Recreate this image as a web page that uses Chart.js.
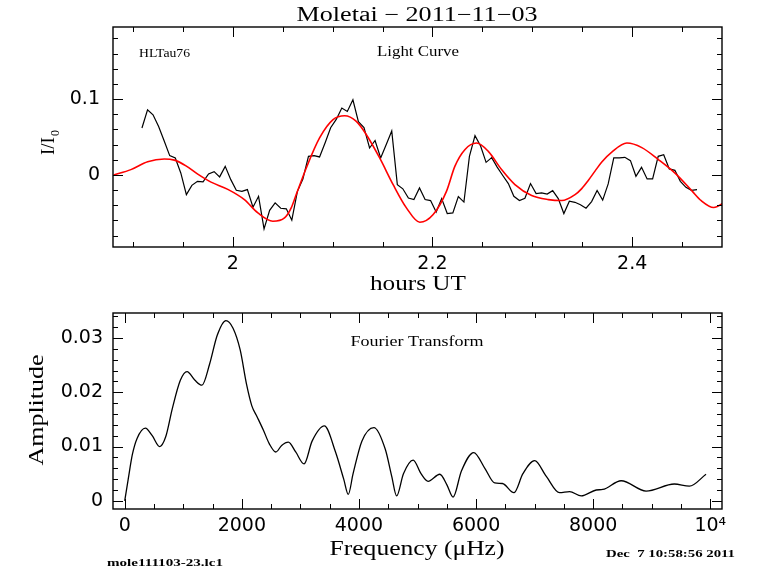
<!DOCTYPE html>
<html>
<head>
<meta charset="utf-8">
<script src="https://cdn.jsdelivr.net/npm/chart.js@4.4.0/dist/chart.umd.min.js"></script>
<style>
  body { margin: 0; background: #fff; }
  #wrap { position: relative; width: 768px; height: 574px; }
  canvas { position: absolute; left: 0; top: 0; }
</style>
</head>
<body>
<div id="wrap">
  <canvas id="lc" width="768" height="574"></canvas>
  <canvas id="ft" width="768" height="574"></canvas>
</div>
<script>
// light curve, hours UT vs I/I0
var lcTime = [
  1.9090, 1.9146, 1.9201, 1.9257, 1.9312, 1.9368, 1.9424, 1.9479, 1.9535, 1.9590,
  1.9646, 1.9702, 1.9757, 1.9813, 1.9868, 1.9924, 1.9980, 2.0035, 2.0091, 2.0146,
  2.0202, 2.0258, 2.0313, 2.0369, 2.0424, 2.0480, 2.0536, 2.0591, 2.0647, 2.0702,
  2.0758, 2.0814, 2.0869, 2.0925, 2.0980, 2.1036, 2.1092, 2.1147, 2.1203, 2.1258,
  2.1314, 2.1370, 2.1425, 2.1481, 2.1536, 2.1592, 2.1648, 2.1703, 2.1759, 2.1814,
  2.1870, 2.1926, 2.1981, 2.2037, 2.2092, 2.2148, 2.2204, 2.2259, 2.2315, 2.2370,
  2.2426, 2.2482, 2.2537, 2.2593, 2.2648, 2.2704, 2.2760, 2.2815, 2.2871, 2.2926,
  2.2982, 2.3038, 2.3093, 2.3149, 2.3204, 2.3260, 2.3316, 2.3371, 2.3427, 2.3482,
  2.3538, 2.3594, 2.3649, 2.3705, 2.3760, 2.3816, 2.3872, 2.3927, 2.3983, 2.4038,
  2.4094, 2.4150, 2.4205, 2.4261, 2.4316, 2.4372, 2.4428, 2.4483, 2.4539, 2.4594,
  2.4650
];
var lcFlux = [
  0.0618, 0.0859, 0.0793, 0.0639, 0.0451, 0.0254, 0.0224, 0.0026, -0.0259, -0.0137,
  -0.0084, -0.0092, 0.0013, 0.0043, -0.0026, 0.0113, -0.0062, -0.0203, -0.0216, -0.0193,
  -0.0426, -0.0282, -0.0711, -0.0466, -0.0368, -0.0439, -0.0447, -0.0597, -0.0216, -0.0053,
  0.0245, 0.0254, 0.0237, 0.0425, 0.0622, 0.0732, 0.0882, 0.0837, 0.0991, 0.0701,
  0.0625, 0.0355, 0.0454, 0.0224, 0.0399, 0.0579, -0.0128, -0.0183, -0.0305, -0.0325,
  -0.0171, -0.0325, -0.0338, -0.0489, -0.0312, -0.0509, -0.0500, -0.0286, -0.0358, 0.0245,
  0.0517, 0.0382, 0.0166, 0.0228, 0.0103, -0.0007, -0.0114, -0.0282, -0.0338, -0.0308,
  -0.0114, -0.0246, -0.0237, -0.0253, -0.0207, -0.0312, -0.0509, -0.0347, -0.0361, -0.0393,
  -0.0439, -0.0351, -0.0204, -0.0332, -0.0118, 0.0224, 0.0224, 0.0232, 0.0188, -0.0018,
  0.0100, -0.0053, -0.0053, 0.0245, 0.0267, 0.0079, 0.0061, -0.0084, -0.0163, -0.0203,
  -0.0193
];

// red fitted curve
var fitTime = [
  1.8806, 1.8979, 1.9147, 1.9314, 1.9414, 1.9531, 1.9649, 1.9782, 1.9950, 2.0116,
  2.0251, 2.0401, 2.0518, 2.0585, 2.0635, 2.0736, 2.0869, 2.1004, 2.1120, 2.1237,
  2.1338, 2.1471, 2.1606, 2.1739, 2.1873, 2.2007, 2.2140, 2.2224, 2.2324, 2.2442,
  2.2559, 2.2692, 2.2826, 2.2993, 2.3161, 2.3295, 2.3428, 2.3495, 2.3562, 2.3628,
  2.3696, 2.3796, 2.3947, 2.4097, 2.4265, 2.4432, 2.4599, 2.4692, 2.4817, 2.4927
];
var fitFlux = [
  0.0000, 0.0070, 0.0175, 0.0210, 0.0195, 0.0120, 0.0010, -0.0095, -0.0190, -0.0325,
  -0.0500, -0.0610, -0.0566, -0.0434, -0.0260, 0.0092, 0.0487, 0.0728, 0.0780, 0.0705,
  0.0530, 0.0224, -0.0128, -0.0434, -0.0624, -0.0522, -0.0216, 0.0113, 0.0333, 0.0420,
  0.0310, 0.0070, -0.0128, -0.0272, -0.0325, -0.0338, -0.0260, -0.0180, -0.0070, 0.0050,
  0.0170, 0.0300, 0.0420, 0.0360, 0.0200, 0.0020, -0.0210, -0.0340, -0.0430, -0.0360
];

// Fourier transform amplitude spectrum
var ftFreq = [
  0, 60, 130, 211, 353, 470, 597, 700, 813, 950,
  1064, 1200, 1319, 1450, 1580, 1728, 1850, 1972, 2080, 2171,
  2260, 2369, 2470, 2581, 2680, 2795, 2920, 3063, 3200, 3409,
  3600, 3740, 3818, 3900, 4050, 4256, 4450, 4560, 4643, 4760,
  4926, 5060, 5181, 5381, 5500, 5608, 5750, 5960, 6150, 6318,
  6450, 6647, 6800, 7000, 7200, 7426, 7597, 7796, 8052, 8164,
  8478, 8904, 9386, 9642, 9927
];
var ftAmp = [
  0.0000, 0.0040, 0.0085, 0.0115, 0.0134, 0.0120, 0.0100, 0.0118, 0.0170, 0.0222,
  0.0238, 0.0222, 0.0213, 0.0252, 0.0305, 0.0332, 0.0318, 0.0278, 0.0215, 0.0175,
  0.0155, 0.0130, 0.0105, 0.0090, 0.0102, 0.0108, 0.0090, 0.0068, 0.0110, 0.0138,
  0.0090, 0.0040, 0.0012, 0.0050, 0.0110, 0.0135, 0.0095, 0.0045, 0.0009, 0.0050,
  0.0075, 0.0050, 0.0036, 0.0049, 0.0030, 0.0007, 0.0055, 0.0089, 0.0060, 0.0033,
  0.0032, 0.0015, 0.0050, 0.0074, 0.0045, 0.0015, 0.0017, 0.0009, 0.0020, 0.0021,
  0.0037, 0.0018, 0.0031, 0.0027, 0.0049
];

var lcXTicks = [2, 2.2, 2.4];
var lcXLabels = ["2", "2.2", "2.4"];
var lcYTicks = [0, 0.1];
var lcYLabels = ["0", "0.1"];
var ftXTicks = [0, 2000, 4000, 6000, 8000, 10000];
var ftXLabels = ["0", "2000", "4000", "6000", "8000", "10\u2074"];
var ftYTicks = [0, 0.01, 0.02, 0.03];
var ftYLabels = ["0", "0.01", "0.02", "0.03"];

function pts(xs, ys) {
  return xs.map(function (x, i) { return {x: x, y: ys[i]}; });
}

// minor tick positions between the scale limits
function eachStep(scale, step, fn) {
  var k = Math.ceil(scale.min / step - 1e-9);
  for (; k * step <= scale.max + 1e-12; k++) fn(k * step);
}

// pgplot style frame with inward ticks on all four sides
var boxTicks = {
  id: "boxTicks",
  afterDraw: function (chart, args, o) {
    var ctx = chart.ctx, a = chart.chartArea;
    var sx = chart.scales.x, sy = chart.scales.y;
    function xt(v, len) {
      var p = Math.round(sx.getPixelForValue(v)) + 0.5;
      ctx.moveTo(p, a.bottom); ctx.lineTo(p, a.bottom - len);
      ctx.moveTo(p, a.top); ctx.lineTo(p, a.top + len);
    }
    function yt(v, len) {
      var p = Math.round(sy.getPixelForValue(v)) + 0.5;
      ctx.moveTo(a.left, p); ctx.lineTo(a.left + len, p);
      ctx.moveTo(a.right, p); ctx.lineTo(a.right - len, p);
    }
    ctx.save();
    ctx.strokeStyle = "#000";
    ctx.lineWidth = 1;
    ctx.beginPath();
    eachStep(sx, o.xStep, function (v) { xt(v, 5); });
    eachStep(sy, o.yStep, function (v) { yt(v, 5); });
    sx.ticks.forEach(function (t) { xt(t.value, 10); });
    sy.ticks.forEach(function (t) { yt(t.value, 10); });
    ctx.stroke();
    ctx.lineWidth = 1.4;
    ctx.strokeRect(a.left, a.top, a.right - a.left, a.bottom - a.top);
    ctx.restore();
  }
};

function put(ctx, s, x, y, font, w, align, rot) {
  ctx.save();
  ctx.font = font;
  ctx.fillStyle = "#000";
  ctx.textAlign = align || "center";
  ctx.textBaseline = "alphabetic";
  ctx.translate(x, y);
  if (rot) ctx.rotate(rot);
  if (w) ctx.scale(w / ctx.measureText(s).width, 1);
  ctx.fillText(s, 0, 0);
  ctx.restore();
}

var SERIF = "'Liberation Serif', 'DejaVu Serif', serif";

var textPlugin = {
  id: "textPlugin",
  afterDraw: function (chart) {
    var ctx = chart.ctx;
    put(ctx, "Moletai \u2212 2011\u221211\u221203", 417, 21, "20px " + SERIF, 241);
    put(ctx, "HLTau76", 139, 57, "12px " + SERIF, 51, "left");
    put(ctx, "Light Curve", 418, 56, "14px " + SERIF, 82);
    put(ctx, "hours UT", 418, 290, "20px " + SERIF, 96);
    // I/I0 rotated with subscript
    ctx.save();
    ctx.translate(54, 155);
    ctx.rotate(-Math.PI / 2);
    ctx.font = "19px " + SERIF;
    ctx.fillStyle = "#000";
    ctx.textAlign = "left";
    ctx.fillText("I/I", 0, 0);
    var w = ctx.measureText("I/I").width;
    ctx.font = "12px " + SERIF;
    ctx.fillText("0", w + 1, 5);
    ctx.restore();
    put(ctx, "Fourier Transform", 417, 346, "14px " + SERIF, 133);
    put(ctx, "Amplitude", 43, 410, "20px " + SERIF, 111, "center", -Math.PI / 2);
    put(ctx, "Frequency (\u03bcHz)", 417, 555, "20px " + SERIF, 175);
    put(ctx, "mole111103-23.lc1", 107, 566, "bold 11px " + SERIF, 116, "left");
    put(ctx, "Dec  7 10:58:56 2011", 606, 557, "bold 11px " + SERIF, 129, "left");
  }
};

var tickFont = {family: "'DejaVu Sans', sans-serif", size: 19};

function axis(min, max, ticks, names, pad, fit) {
  return {
    type: "linear",
    min: min,
    max: max,
    grid: {display: false, drawTicks: false},
    border: {display: false},
    afterBuildTicks: function (s) {
      s.ticks = ticks.map(function (v) { return {value: v}; });
    },
    ticks: {
      autoSkip: false,
      maxRotation: 0,
      padding: pad,
      color: "#000",
      font: tickFont,
      callback: function (v, i) { return names[i]; }
    },
    afterFit: fit
  };
}

new Chart(document.getElementById("lc"), {
  type: "scatter",
  data: {
    datasets: [
      {
        data: pts(fitTime, fitFlux),
        showLine: true,
        borderColor: "#ff0000",
        borderWidth: 1.6,
        pointRadius: 0,
        cubicInterpolationMode: "monotone",
        order: 0
      },
      {
        data: pts(lcTime, lcFlux),
        showLine: true,
        borderColor: "#000",
        borderWidth: 1.2,
        pointRadius: 0,
        tension: 0,
        order: 1
      }
    ]
  },
  options: {
    responsive: false,
    animation: false,
    devicePixelRatio: 1,
    layout: {padding: {left: 0, right: 46, top: 27, bottom: 0}},
    plugins: {
      legend: {display: false},
      tooltip: {enabled: false},
      boxTicks: {xStep: 0.05, yStep: 0.02}
    },
    scales: {
      x: axis(1.88, 2.49, lcXTicks, lcXLabels, 6, function (s) { s.height = 574 - 247; }),
      y: axis(-0.095, 0.195, lcYTicks, lcYLabels, 13, function (s) { s.width = 113; })
    }
  },
  plugins: [boxTicks]
});

new Chart(document.getElementById("ft"), {
  type: "scatter",
  data: {
    datasets: [
      {
        data: pts(ftFreq, ftAmp),
        showLine: true,
        borderColor: "#000",
        borderWidth: 1.3,
        pointRadius: 0,
        cubicInterpolationMode: "monotone"
      }
    ]
  },
  options: {
    responsive: false,
    animation: false,
    devicePixelRatio: 1,
    layout: {padding: {left: 0, right: 46, top: 313, bottom: 0}},
    plugins: {
      legend: {display: false},
      tooltip: {enabled: false},
      boxTicks: {xStep: 500, yStep: 0.002}
    },
    scales: {
      x: axis(-200, 10200, ftXTicks, ftXLabels, 6, function (s) { s.height = 574 - 509; }),
      y: axis(-0.0015, 0.0346, ftYTicks, ftYLabels, 10, function (s) { s.width = 113; })
    }
  },
  plugins: [boxTicks, textPlugin]
});
</script>
</body>
</html>
